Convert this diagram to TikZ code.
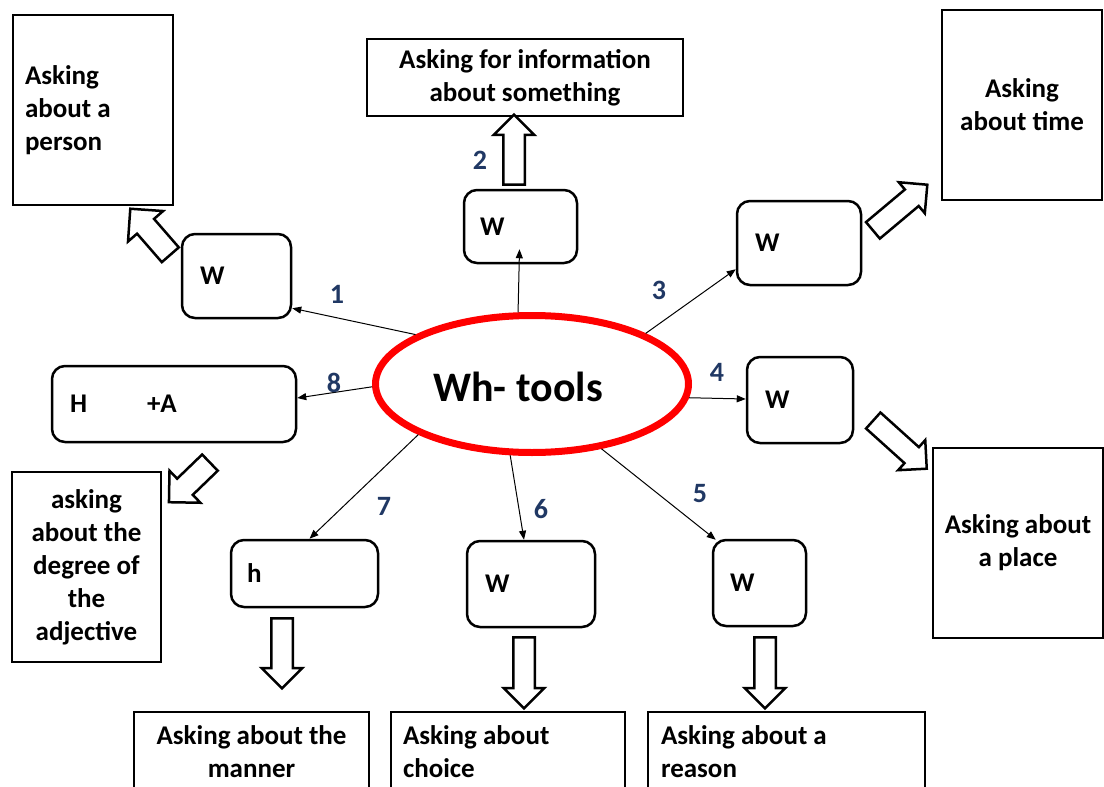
\documentclass[tikz,border=0pt]{standalone}
\usepackage{fontspec}
\setmainfont{Carlito}
\usetikzlibrary{shapes.geometric,shapes.arrows,calc,arrows.meta}
\definecolor{numblue}{RGB}{32,56,100}
\definecolor{ringred}{RGB}{255,0,0}

\begin{document}
\begin{tikzpicture}[x=1pt,y=-1pt,
  txt/.style={font=\bfseries\fontsize{27}{33}\selectfont},
  topic/.style={txt,draw,line width=2.5pt,inner sep=0pt,outer sep=0pt},
  wbox/.style={txt,draw,line width=2.5pt,rounded corners=13pt,inner sep=0pt,align=flush left},
  num/.style={font=\bfseries\fontsize{28}{28}\selectfont,text=numblue,inner sep=0pt},
  link/.style={line width=1pt,-{Triangle[length=9pt,width=7pt]}},
  fat/.style={single arrow,draw,fill=white,line width=2.5pt,inner xsep=0pt,inner ysep=9.5pt,
              single arrow head extend=9.5pt,minimum width=38pt},
]
\useasboundingbox (0,0) rectangle (1104,787);
\clip (0,0) rectangle (1104,787);

% answer boxes
\node[topic,minimum width=160pt,minimum height=190pt,text width=136pt,align=flush left] (person) at (93,110) {\raisebox{-3pt}{\parbox{136pt}{Asking\\about a\\person}}};
\node[topic,minimum width=316pt,minimum height=77pt,align=flush center] (info) at (525,77.5) {Asking for information\\about something};
\node[topic,minimum width=160pt,minimum height=190pt,align=flush center] (time) at (1022,105) {Asking\\about time};
\node[topic,minimum width=149pt,minimum height=190pt,align=flush center] (degree) at (86.5,567) {asking\\about the\\degree of\\the\\adjective};
\node[topic,minimum width=170pt,minimum height=190pt,align=flush center] (place) at (1018,543) {Asking about\\a place};
\node[topic,minimum width=235pt,minimum height=80pt,align=flush center] (manner) at (251.5,752) {Asking about the\\manner};
\node[topic,minimum width=234pt,minimum height=80pt,text width=210pt,align=flush left] (choice) at (508,752) {Asking about\\choice};
\node[topic,minimum width=277pt,minimum height=80pt,text width=251pt,align=flush left] (reason) at (786.5,752) {Asking about a\\reason};

% central ring
\node[ellipse,draw=ringred,line width=7pt,minimum width=313pt,minimum height=137pt,inner sep=0pt] (core) at (532,384) {};
\node[font=\bfseries\fontsize{42}{42}\selectfont,inner sep=0pt] (coretext) at (518,387) {Wh- tools};

% question-word boxes
\node[wbox,minimum width=109pt,minimum height=84pt,text width=73pt] (w1) at (236.5,276) {W};
\node[wbox,minimum width=113pt,minimum height=73pt,text width=81pt] (w2) at (520.5,226.5) {W};
\node[wbox,minimum width=124pt,minimum height=84pt,text width=88pt] (w3) at (799,243) {W};
\node[wbox,minimum width=106pt,minimum height=86pt,text width=70pt] (w4) at (800,400) {W};
\node[wbox,minimum width=93pt,minimum height=86pt,text width=59pt] (w5) at (759.5,583) {W};
\node[wbox,minimum width=128pt,minimum height=86pt,text width=92pt] (w6) at (531,584) {W};
\node[wbox,minimum width=147pt,minimum height=67pt,text width=115pt] (h7) at (304.5,573.5) {h};
\node[wbox,minimum width=244pt,minimum height=76pt,text width=208pt] (h8) at (174,404) {H\hspace{60pt}+A};

% connectors from the ring
\draw[link] (core.157) -- ($(w1.south east)+(0,-11)$);
\draw[link] (core.101) -- ($(w2.south)+(-1,-15)$);
\draw[link] (core.24) -- ($(w3.south west)+(0,-17)$);
\draw[link] (core.-5) -- ($(w4.west)+(0,-1)$);
\draw[link] (core.-43) -- ($(w5.north west)+(4,1)$);
\draw[link] (core.-107) -- ($(w6.north)+(-7,0)$);
\draw[link] (core.204) -- ($(h7.north)+(5,0)$);
\draw[link] (core.181) -- ($(h8.east)+(0,-6)$);

% numbers
\node[num] (n1) at (337,294) {1};
\node[num] (n2) at (480,160) {2};
\node[num] (n3) at (659,290) {3};
\node[num] (n4) at (717,372) {4};
\node[num] (n5) at (700,494) {5};
\node[num] (n6) at (541,509) {6};
\node[num] (n7) at (384,506) {7};
\node[num] (n8) at (334,383) {8};

% hollow block arrows towards the meanings
\node[fat,minimum height=61pt,minimum width=44pt,inner ysep=10pt,single arrow head extend=12pt,rotate=131] (b1) at (154,236) {};
\node[fat,minimum height=70pt,rotate=90] (b2) at (514,155) {};
\node[fat,minimum height=71pt,rotate=40] (b3) at (896,211) {};
\node[fat,minimum height=72pt,rotate=-42] (b4) at (896,441) {};
\node[fat,minimum height=57pt,minimum width=42pt,inner ysep=10pt,single arrow head extend=11pt,rotate=-136] (b8) at (193.5,478.5) {};
\node[fat,minimum height=70pt,rotate=-90] (b7) at (282,648) {};
\node[fat,minimum height=71pt,rotate=-90] (b6) at (524,667.5) {};
\node[fat,minimum height=71pt,rotate=-90] (b5) at (765,667.5) {};
\end{tikzpicture}
\end{document}
